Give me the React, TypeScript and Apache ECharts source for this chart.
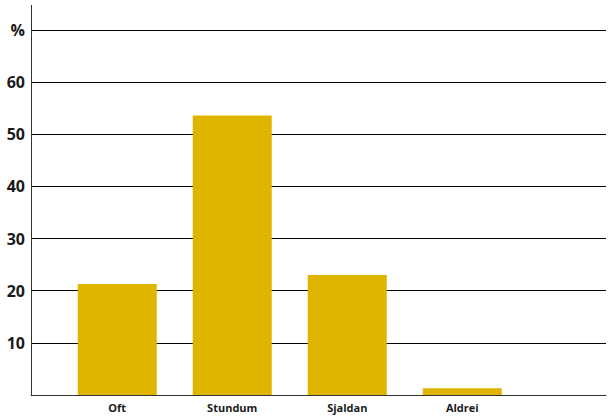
import React, { useEffect, useRef } from "react";
import * as echarts from "echarts";

const categories = ["", "Oft", "", "Stundum", "", "Sjaldan", "", "Aldrei", "", ""];
const values: (number | null)[] = [null, 21.3, null, 53.6, null, 23.0, null, 1.3, null, null];
const yTickLabels: Record<number, string> = { 0: "", 10: "10", 20: "20", 30: "30", 40: "40", 50: "50", 60: "60", 70: "%" };

export default function App() {
  const ref = useRef<HTMLDivElement>(null);
  useEffect(() => {
    if (!ref.current) return;
    const chart = echarts.init(ref.current, null, { renderer: "svg" });
    chart.setOption({
      animation: false,
      grid: { left: 31, right: 2, top: 30, bottom: 21, containLabel: false },
      xAxis: {
        type: "category",
        data: categories,
        axisLine: { show: true, lineStyle: { color: "#333", width: 1 } },
        axisTick: { show: false },
        axisLabel: {
          interval: 0,
          margin: 7,
          fontSize: 11,
          fontWeight: "bold",
          color: "#1a1a1a",
          fontFamily: "Open Sans",
        },
      },
      yAxis: {
        type: "value",
        min: 0,
        max: 70,
        interval: 10,
        axisLine: { show: true, lineStyle: { color: "#333", width: 1 } },
        axisTick: { show: false },
        splitLine: { show: true, lineStyle: { color: "#000", width: 1 } },
        axisLabel: {
          margin: 6,
          fontSize: 16,
          fontWeight: "bold",
          color: "#1a1a1a",
          fontFamily: "Open Sans",
          formatter: (v: number) => yTickLabels[v] ?? String(v),
        },
      },
      graphic: [
        {
          type: "line",
          shape: { x1: 31.5, y1: 5, x2: 31.5, y2: 30 },
          style: { stroke: "#333", lineWidth: 1 },
        },
      ],
      series: [
        {
          type: "bar",
          data: values,
          barWidth: 79,
          itemStyle: { color: "#dfb500" },
        },
      ],
    });
    return () => chart.dispose();
  }, []);
  return <div ref={ref} style={{ width: 608, height: 416, position: "absolute", left: 0, top: 0 }} />;
}
